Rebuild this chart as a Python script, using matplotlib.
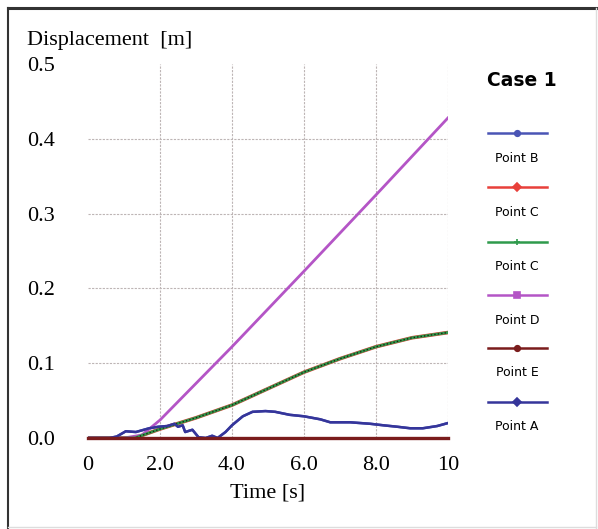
import matplotlib
matplotlib.use('Agg')
import matplotlib.pyplot as plt
from matplotlib.lines import Line2D

# ---- data ----
time_a = [0, 0.6, 0.8, 1.05, 1.33, 1.7, 1.95, 2.2, 2.4, 2.5, 2.63, 2.7, 2.9, 3.07,
          3.27, 3.45, 3.6, 3.82, 4.0, 4.3, 4.57, 4.93, 5.2, 5.6, 6.0, 6.45, 6.73,
          7.28, 7.84, 8.2, 8.6, 8.95, 9.3, 9.7, 10.0]
point_a = [0, 0, 0.002, 0.009, 0.008, 0.013, 0.015, 0.016, 0.019, 0.015, 0.017,
           0.008, 0.011, 0.001, 0.0, 0.003, 0.0, 0.008, 0.017, 0.029, 0.035, 0.036,
           0.035, 0.031, 0.029, 0.025, 0.021, 0.021, 0.019, 0.017, 0.015, 0.013,
           0.013, 0.016, 0.02]
point_b = point_a

time_c = [0, 1.3, 2, 3, 4, 5, 6, 7, 8, 9, 10]
point_c = [0, 0, 0.012, 0.027, 0.044, 0.066, 0.088, 0.106, 0.122, 0.134, 0.141]

time_d = [0, 1.0, 1.5, 2.0, 4.0, 6.0, 8.0, 10.0]
point_d = [0, 0, 0.004, 0.024, 0.122, 0.223, 0.325, 0.428]

time_e = [0, 10]
point_e = [0, 0]

xticks = [0, 2, 4, 6, 8, 10]
xticklabels = ['0', '2.0', '4.0', '6.0', '8.0', '10']
yticks = [0, 0.1, 0.2, 0.3, 0.4, 0.5]
yticklabels = ['0.0', '0.1', '0.2', '0.3', '0.4', '0.5']

legend_names = ['Point B', 'Point C', 'Point C', 'Point D', 'Point E', 'Point A']
legend_colours = ['#4a55b5', '#e8403a', '#2f9a4c', '#b455c6', '#7a1c1c', '#35359a']
legend_markers = ['o', 'D', '+', 's', 'o', 'D']

W, H = 598, 529
fig = plt.figure(figsize=(W / 100, H / 100), dpi=100)
ax = fig.add_axes([88 / W, 1 - 438 / H, 360 / W, 374 / H])

serif = ['Liberation Serif', 'DejaVu Serif']
fs = 16

ax.plot(time_a, point_b, color=legend_colours[0], lw=1.8, zorder=3)
ax.plot(time_c, point_c, color=legend_colours[1], lw=2.6, zorder=3)
ax.plot(time_c, point_c, color=legend_colours[2], lw=2.0, zorder=4)
ax.plot(time_c, point_c, color='#202010', lw=1.0, ls=(0, (1, 1.5)), zorder=5)
ax.plot(time_d, point_d, color=legend_colours[3], lw=2.0, zorder=3)
ax.plot(time_e, point_e, color=legend_colours[4], lw=2.4, zorder=6, clip_on=False)
ax.plot(time_a, point_a, color=legend_colours[5], lw=1.8, zorder=5)

ax.set_xlim(0, 10)
ax.set_ylim(0, 0.5)
ax.set_xticks(xticks)
ax.set_xticklabels(xticklabels, fontfamily=serif, fontsize=fs)
ax.set_yticks(yticks)
ax.set_yticklabels(yticklabels, fontfamily=serif, fontsize=fs)
for lab in ax.get_yticklabels():
    lab.set_horizontalalignment('left')
ax.tick_params(axis='both', length=0)
ax.tick_params(axis='y', pad=44)
ax.tick_params(axis='x', pad=13)
ax.grid(True, color='#bdb5b5', lw=0.8, ls=(0, (2, 1.2)))
ax.xaxis.get_gridlines()[0].set_visible(False)
ax.yaxis.get_gridlines()[-1].set_visible(False)
for s in ax.spines.values():
    s.set_visible(False)
ax.set_xlabel('Time [s]', fontfamily=serif, fontsize=fs, labelpad=6)

fig.text(27 / W, 1 - 40 / H, 'Displacement  [m]', fontfamily=serif, fontsize=fs,
         ha='left', va='center')

# legend on the right: line above, name below
fig.text(522 / W, 1 - 80 / H, 'Case 1', fontsize=13.5, fontweight='bold',
         ha='center', va='center')
line_y = [133, 187, 242, 295, 348, 402]
for name, col, mk, y in zip(legend_names, legend_colours, legend_markers, line_y):
    fig.add_artist(Line2D([488 / W, 547 / W], [1 - y / H, 1 - y / H], color=col,
                          lw=1.8, transform=fig.transFigure))
    fig.add_artist(Line2D([517 / W], [1 - y / H], color=col, marker=mk, ms=4,
                          mew=1.2, transform=fig.transFigure))
    fig.text(517 / W, 1 - (y + 25) / H, name, fontsize=9, ha='center', va='center')

# outer frame
fig.add_artist(Line2D([8 / W, 596 / W], [1 - 8 / H, 1 - 8 / H], color='#333333', lw=2.2,
                      transform=fig.transFigure))
fig.add_artist(Line2D([8 / W, 8 / W], [1 - 8 / H, 1 - 528 / H], color='#333333', lw=1.5,
                      transform=fig.transFigure))
fig.add_artist(Line2D([596 / W, 596 / W], [1 - 8 / H, 1 - 528 / H], color='#dddddd', lw=1,
                      transform=fig.transFigure))
fig.add_artist(Line2D([8 / W, 596 / W], [1 - 527 / H, 1 - 527 / H], color='#dddddd', lw=1,
                      transform=fig.transFigure))

fig.savefig('out.png', dpi=100)
